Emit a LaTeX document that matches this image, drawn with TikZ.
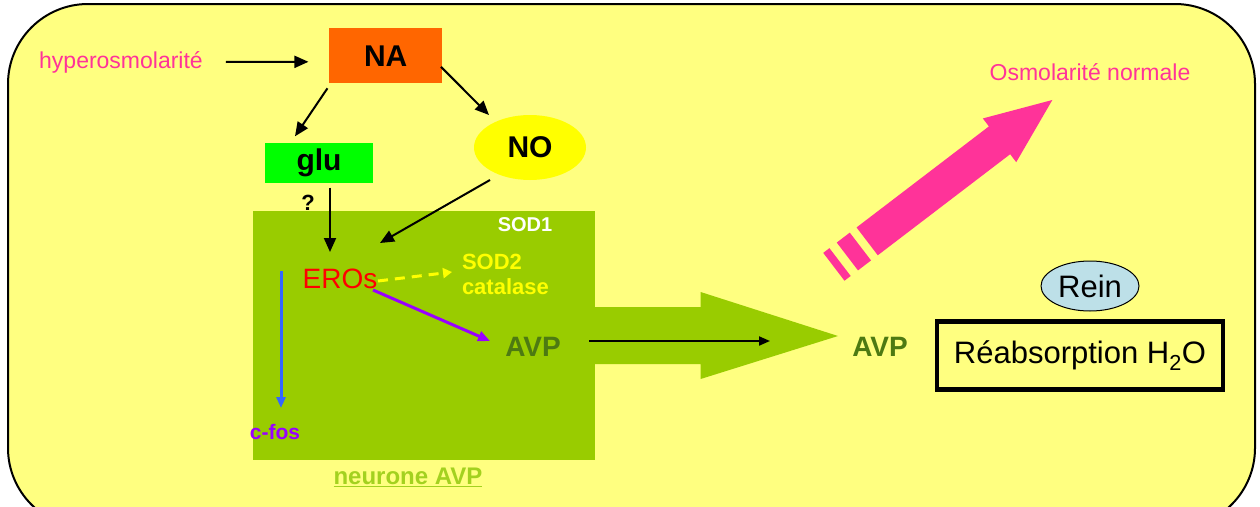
\documentclass[tikz,border=0pt]{standalone}
\usepackage{fontspec}
\setmainfont{Liberation Sans}
\usetikzlibrary{arrows.meta,shapes.geometric,calc}
\definecolor{bgy}{HTML}{FFFF80}
\definecolor{neur}{HTML}{99CC00}
\definecolor{nlabc}{HTML}{A3D11F}
\definecolor{naor}{HTML}{FF6600}
\definecolor{glug}{HTML}{00FF00}
\definecolor{noy}{HTML}{FFFF00}
\definecolor{pinkc}{HTML}{FF3399}
\definecolor{avpg}{HTML}{4D7A12}
\definecolor{purp}{HTML}{9900FF}
\definecolor{bluec}{HTML}{3366FF}
\definecolor{reinb}{HTML}{BDE0E8}
\newcommand{\fsz}[1]{\fontsize{#1}{#1}\selectfont}
\begin{document}
\begin{tikzpicture}[x=1pt,y=-1pt,
  blk/.style={draw=black, line width=2pt, -{Triangle[length=14pt,width=12pt]}},
  txt/.style={inner sep=0pt, outer sep=0pt},
  pinktxt/.style={txt, text=pinkc, font=\fsz{23}},
  bigbold/.style={txt, font=\fsz{30}\bfseries},
  avptxt/.style={txt, text=avpg, font=\fsz{28}\bfseries}]
\useasboundingbox (0,0) rectangle (1260,506);
\begin{scope}
\clip (0,0) rectangle (1260,506);
\draw[fill=bgy, line width=2pt, rounded corners=80pt] (8,4) rectangle (1255,528);
\end{scope}
% neurone
\node[fill=neur, minimum width=341.6pt, minimum height=249.3pt, inner sep=0pt, anchor=north west] (neur) at (252.7,210.7) {};
\fill[neur] (590,307) -- (700.6,307) -- (700.6,292) -- (838,336) -- (700.6,379) -- (700.6,364) -- (590,364) -- cycle;
% pink arrow
\begin{scope}[shift={(833.85,266.8)}, x={(0.795pt,0.607pt)}, y={(0.607pt,-0.795pt)}]
\fill[pinkc] (0,-17.5) -- (7.8,-17.5) -- (7.8,17.5) -- (0,17.5) -- cycle;
\fill[pinkc] (17,-17.5) -- (33.4,-17.5) -- (33.4,17.5) -- (17,17.5) -- cycle;
\fill[pinkc] (41.9,-17.5) -- (208.4,-17.5) -- (208.4,-27.5) -- (274.8,0) -- (208.4,27.5) -- (208.4,17.5) -- (41.9,17.5) -- cycle;
\end{scope}
% nodes
\node[pinktxt] (hyp) at (121,62) {hyperosmolarité};
\node[pinktxt] (osm) at (1090,72) {Osmolarité normale};
\node[fill=naor, minimum width=112.5pt, minimum height=55pt, inner sep=0pt, bigbold] (na) at (385.7,55.8) {NA};
\node[fill=glug, minimum width=108pt, minimum height=39.4pt, inner sep=0pt, bigbold] (glu) at (319,163) {glu};
\node[ellipse, fill=noy, minimum width=112pt, minimum height=65pt, inner sep=0pt, bigbold] (no) at (530,147.5) {NO};
\node[txt, font=\fsz{22}\bfseries] (q) at (308,203) {?};
\node[txt, text=white, font=\fsz{20}\bfseries] (sod1) at (525,225) {SOD1};
\node[txt, text=noy, font=\fsz{22}\bfseries, align=left, anchor=west] (sod2) at (462,274) {SOD2\\[3pt]catalase};
\node[txt, text=red, font=\fsz{28}] (eros) at (340,279) {EROs};
\node[avptxt] (avp) at (533,347) {AVP};
\node[avptxt] (avpr) at (880,347) {AVP};
\node[txt, text=purp, font=\fsz{21}\bfseries] (cfos) at (275,432) {c-fos};
\node[txt, text=nlabc, font=\fsz{24}\bfseries] (nlab) at (408,477) {\underline{neurone AVP}};
\node[ellipse, draw=black, line width=1pt, fill=reinb, minimum width=98pt, minimum height=50pt, inner sep=0pt, font=\fsz{31}] (rein) at (1090,286) {Rein};
\node[draw=black, line width=4.5pt, minimum width=285.7pt, minimum height=68.4pt, inner sep=0pt, font=\fsz{31}] (reab) at (1080,355.5) {Réabsorption H\textsubscript{2}O};
\coordinate (bluetop) at (281,271);
% connectors
\draw[blk] (hyp.east) ++(23,0) coordinate (h1) (h1) -- ($(na.west)+(-21,6)$);
\draw[blk] ($(na.south west)+(-2,5)$) -- ($(glu.north west)+(30,-7)$);
\draw[blk] ($(na.east)+(-1,11)$) -- ($(no.north)+(-41,0)$);
\draw[blk] ($(no.south)+(-40,0)$) -- ($(eros.center)+(40,-36)$);
\draw[blk] ($(glu.south)+(11,5)$) -- ($(eros.center)+(-10,-27)$);
\draw[draw=noy, line width=3pt, dash pattern=on 10pt off 7pt, -{Triangle[length=9pt,width=10pt]}] ($(eros.center)+(38,2)$) -- ($(sod2.west)+(-10,-2)$);
\draw[draw=purp, line width=3pt, -{Triangle[length=12pt,width=10pt]}] ($(eros.center)+(33,11)$) -- ($(avp.center)+(-43,-6)$);
\draw[draw=bluec, line width=3pt, -{Triangle[length=11pt,width=9pt]}] (bluetop) -- ($(cfos.center)+(6,-24)$);
\draw[draw=black, line width=2pt, -{Triangle[length=11pt,width=9pt]}] ($(avp.center)+(56,-6)$) -- ($(avpr.center)+(-110,-6)$);
\end{tikzpicture}
\end{document}
